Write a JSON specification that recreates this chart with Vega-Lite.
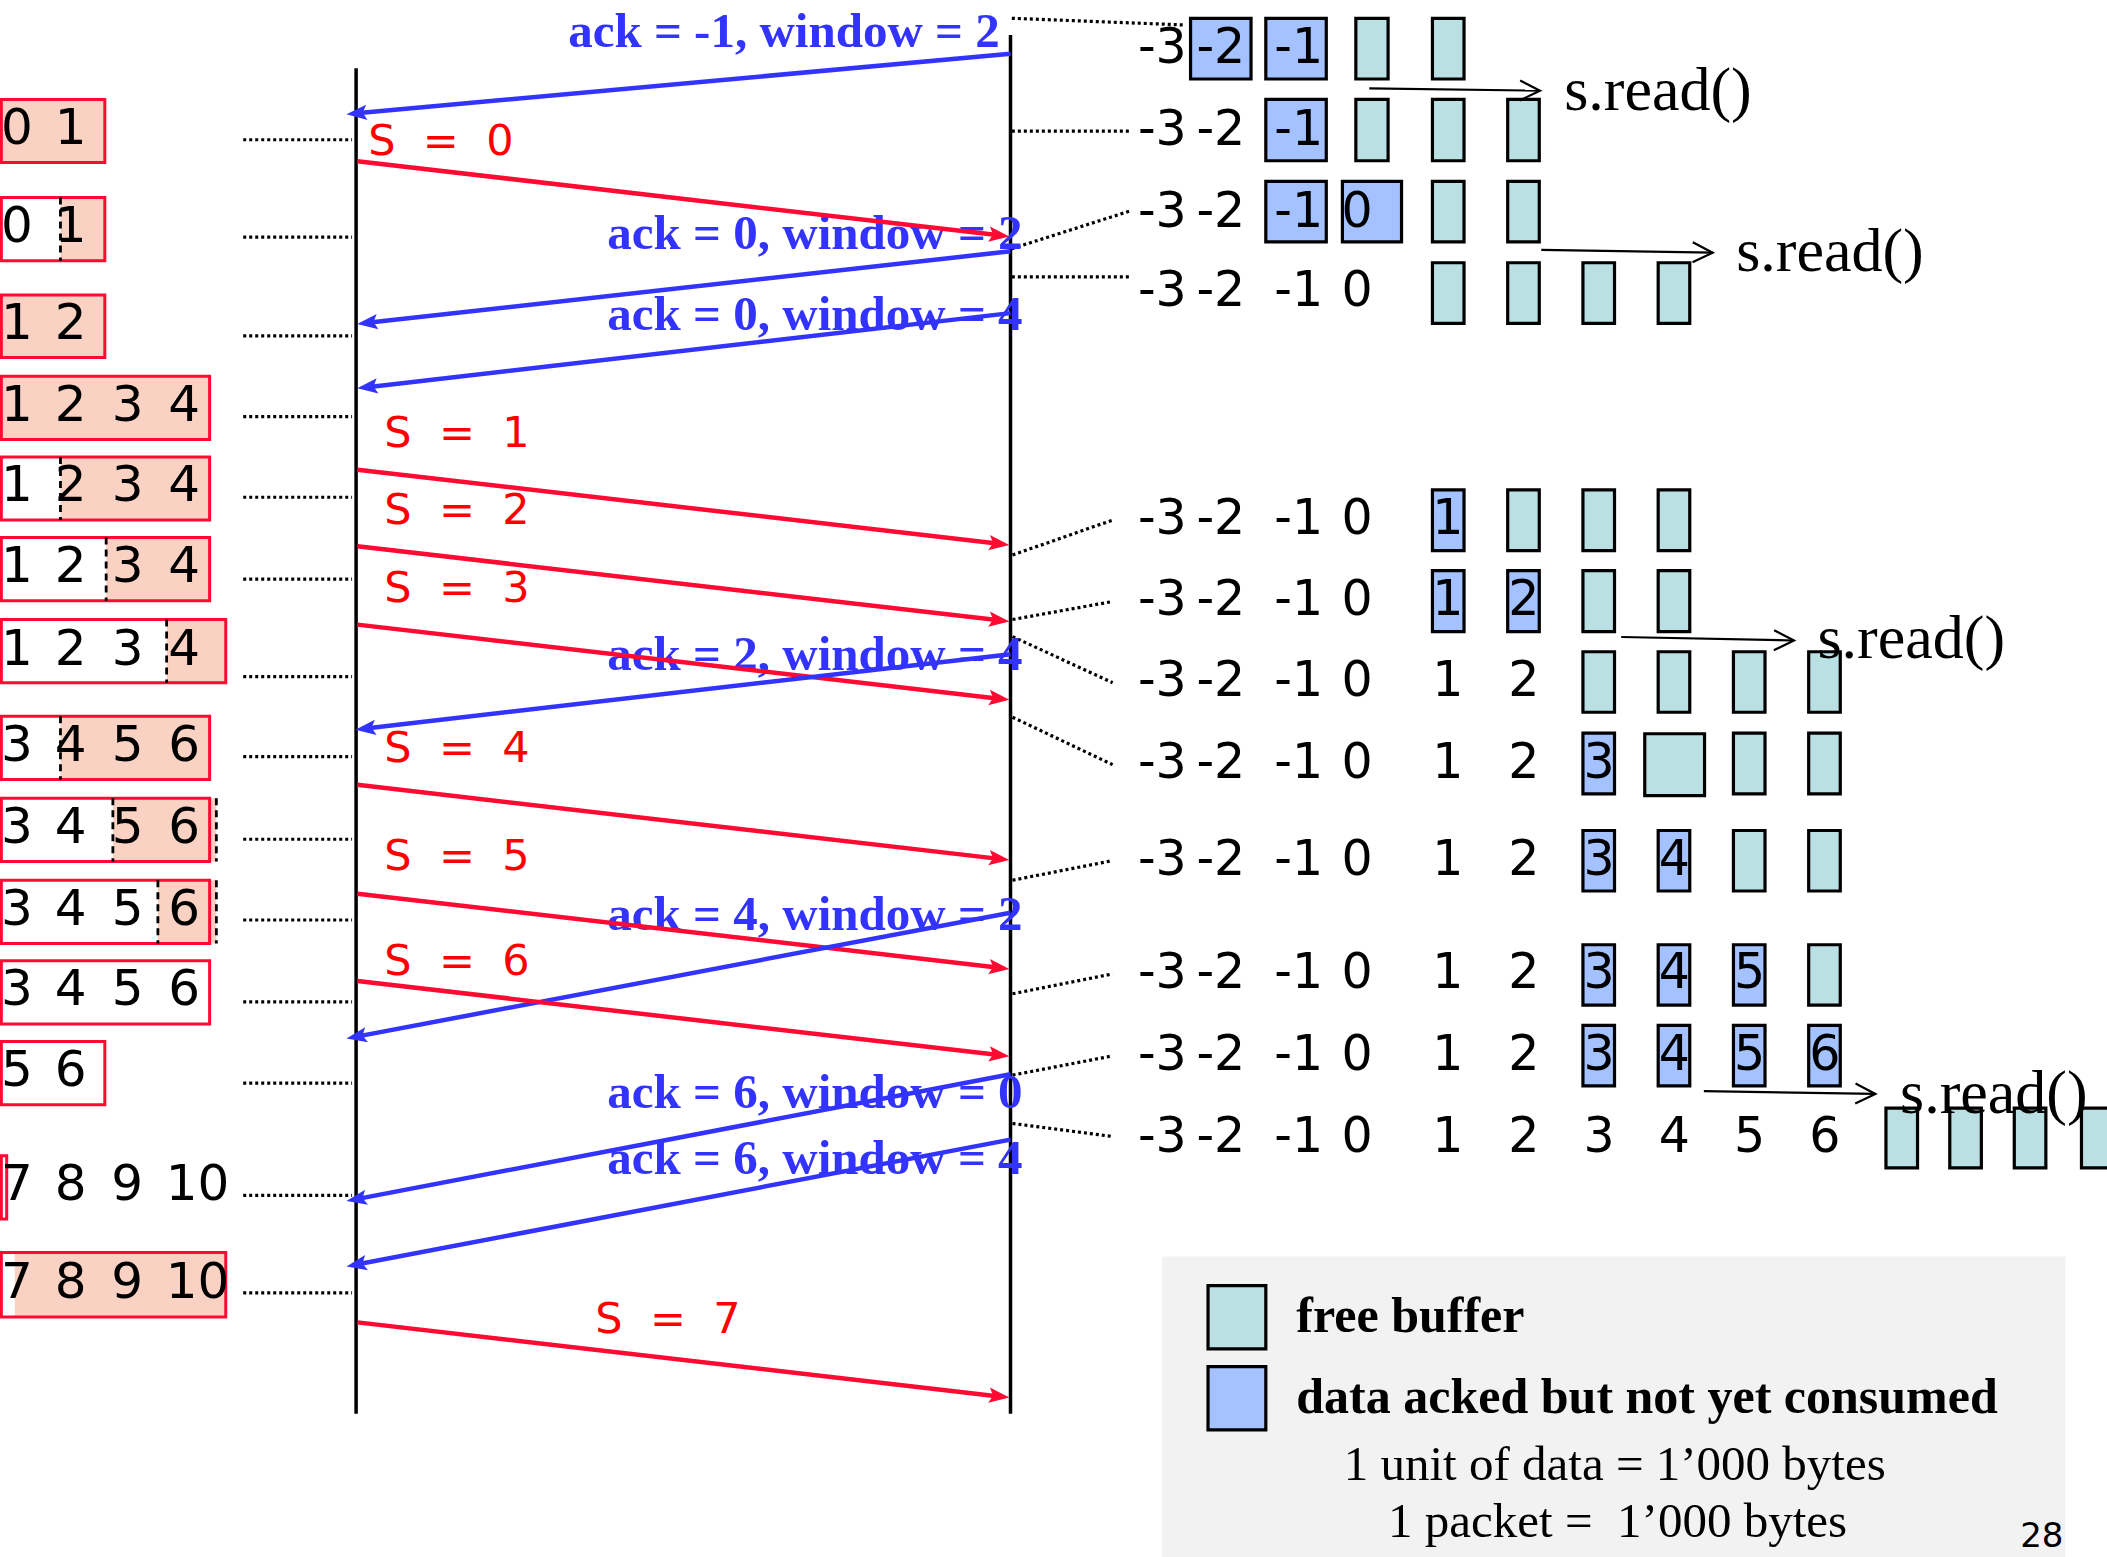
{
"$schema": "https://vega.github.io/schema/vega-lite/v6.json",
"width": 2107, "height": 1557, "padding": 0, "autosize": {"type": "none"},
"background": "white",
"config": {"view": {"stroke": null}},
"datasets": {
"legendBg": [{"x": 864.8, "x2": 1537, "y": 935, "y2": 1160}],
"verticals": [{"x": 265, "y": 50.8, "x2": 265, "y2": 1052}, {"x": 752, "y": 26, "x2": 752, "y2": 1052}],
"leftFills": [
{"x": 1, "x2": 78, "y": 74, "y2": 121},
{"x": 45, "x2": 78, "y": 147, "y2": 194},
{"x": 1, "x2": 78, "y": 219.5, "y2": 266},
{"x": 1, "x2": 156, "y": 280, "y2": 327},
{"x": 45, "x2": 156, "y": 340, "y2": 387},
{"x": 79, "x2": 156, "y": 400, "y2": 447},
{"x": 124, "x2": 168, "y": 461, "y2": 508},
{"x": 45, "x2": 156, "y": 533, "y2": 580},
{"x": 84, "x2": 161, "y": 594, "y2": 641},
{"x": 117.5, "x2": 161, "y": 655, "y2": 702},
{"x": 11, "x2": 168, "y": 932, "y2": 980}
],
"leftBoxes": [
{"x": 1, "x2": 78, "y": 74, "y2": 121},
{"x": 1, "x2": 78, "y": 147, "y2": 194},
{"x": 1, "x2": 78, "y": 219.5, "y2": 266},
{"x": 1, "x2": 156, "y": 280, "y2": 327},
{"x": 1, "x2": 156, "y": 340, "y2": 387},
{"x": 1, "x2": 156, "y": 400, "y2": 447},
{"x": 1, "x2": 168, "y": 461, "y2": 508},
{"x": 1, "x2": 156, "y": 533, "y2": 580},
{"x": 1, "x2": 156, "y": 594, "y2": 641},
{"x": 1, "x2": 156, "y": 655, "y2": 702},
{"x": 1, "x2": 156, "y": 715, "y2": 762},
{"x": 1, "x2": 78, "y": 775, "y2": 822},
{"x": 1, "x2": 5, "y": 860, "y2": 907},
{"x": 1, "x2": 168, "y": 932, "y2": 980}
],
"leftDashes": [
{"x": 45, "y": 147, "y2": 194},
{"x": 45, "y": 340, "y2": 387},
{"x": 79, "y": 400, "y2": 447},
{"x": 124, "y": 461, "y2": 508},
{"x": 45, "y": 533, "y2": 580},
{"x": 84, "y": 594, "y2": 641},
{"x": 161, "y": 594, "y2": 641},
{"x": 117.5, "y": 655, "y2": 702},
{"x": 161, "y": 655, "y2": 702}
],
"dots": [
{"x": 181, "y": 104, "x2": 262, "y2": 104},
{"x": 181, "y": 176.5, "x2": 262, "y2": 176.5},
{"x": 181, "y": 250, "x2": 262, "y2": 250},
{"x": 181, "y": 310, "x2": 262, "y2": 310},
{"x": 181, "y": 370, "x2": 262, "y2": 370},
{"x": 181, "y": 431, "x2": 262, "y2": 431},
{"x": 181, "y": 503.5, "x2": 262, "y2": 503.5},
{"x": 181, "y": 563, "x2": 262, "y2": 563},
{"x": 181, "y": 624.5, "x2": 262, "y2": 624.5},
{"x": 181, "y": 684.6, "x2": 262, "y2": 684.6},
{"x": 181, "y": 745.5, "x2": 262, "y2": 745.5},
{"x": 181, "y": 806, "x2": 262, "y2": 806},
{"x": 181, "y": 889.5, "x2": 262, "y2": 889.5},
{"x": 181, "y": 962, "x2": 262, "y2": 962},
{"x": 753, "y": 13.6, "x2": 882, "y2": 18.6},
{"x": 753, "y": 97.5, "x2": 841, "y2": 97.5},
{"x": 753, "y": 185, "x2": 841, "y2": 157},
{"x": 753, "y": 206, "x2": 841, "y2": 206},
{"x": 753.5, "y": 413, "x2": 828, "y2": 387},
{"x": 753.5, "y": 461, "x2": 828, "y2": 447.6},
{"x": 753.5, "y": 473.7, "x2": 828, "y2": 508},
{"x": 753.5, "y": 533.7, "x2": 828, "y2": 569},
{"x": 753.5, "y": 655, "x2": 828, "y2": 640.4},
{"x": 753.5, "y": 739.5, "x2": 828, "y2": 724.7},
{"x": 753.5, "y": 800, "x2": 828, "y2": 785.7},
{"x": 753.5, "y": 836, "x2": 828, "y2": 845.7}
],
"rightBoxes": [
{"kind": "acked", "x": 886, "x2": 931, "y": 13.6, "y2": 58.8},
{"kind": "acked", "x": 942, "x2": 987, "y": 13.6, "y2": 58.8},
{"kind": "free", "x": 1009, "x2": 1033, "y": 13.6, "y2": 58.8},
{"kind": "free", "x": 1066, "x2": 1089.5, "y": 13.6, "y2": 58.8},
{"kind": "acked", "x": 942, "x2": 987, "y": 74, "y2": 119.6},
{"kind": "free", "x": 1009, "x2": 1033, "y": 74, "y2": 119.6},
{"kind": "free", "x": 1066, "x2": 1089.5, "y": 74, "y2": 119.6},
{"kind": "free", "x": 1122, "x2": 1145.5, "y": 74, "y2": 119.6},
{"kind": "acked", "x": 942, "x2": 987, "y": 135, "y2": 180},
{"kind": "acked", "x": 999, "x2": 1043, "y": 135, "y2": 180},
{"kind": "free", "x": 1066, "x2": 1089.5, "y": 135, "y2": 180},
{"kind": "free", "x": 1122, "x2": 1145.5, "y": 135, "y2": 180},
{"kind": "free", "x": 1066, "x2": 1089.5, "y": 195.5, "y2": 240.6},
{"kind": "free", "x": 1122, "x2": 1145.5, "y": 195.5, "y2": 240.6},
{"kind": "free", "x": 1178, "x2": 1201.5, "y": 195.5, "y2": 240.6},
{"kind": "free", "x": 1234, "x2": 1257.5, "y": 195.5, "y2": 240.6},
{"kind": "acked", "x": 1066, "x2": 1089.5, "y": 364.5, "y2": 409.7},
{"kind": "free", "x": 1122, "x2": 1145.5, "y": 364.5, "y2": 409.7},
{"kind": "free", "x": 1178, "x2": 1201.5, "y": 364.5, "y2": 409.7},
{"kind": "free", "x": 1234, "x2": 1257.5, "y": 364.5, "y2": 409.7},
{"kind": "acked", "x": 1066, "x2": 1089.5, "y": 424.6, "y2": 470},
{"kind": "acked", "x": 1122, "x2": 1145.5, "y": 424.6, "y2": 470},
{"kind": "free", "x": 1178, "x2": 1201.5, "y": 424.6, "y2": 470},
{"kind": "free", "x": 1234, "x2": 1257.5, "y": 424.6, "y2": 470},
{"kind": "free", "x": 1178, "x2": 1201.5, "y": 485, "y2": 530},
{"kind": "free", "x": 1234, "x2": 1257.5, "y": 485, "y2": 530},
{"kind": "free", "x": 1290, "x2": 1313.5, "y": 485, "y2": 530},
{"kind": "free", "x": 1346, "x2": 1369.5, "y": 485, "y2": 530},
{"kind": "acked", "x": 1178, "x2": 1201.5, "y": 545.6, "y2": 590.7},
{"kind": "free", "x": 1224, "x2": 1268.5, "y": 546, "y2": 592},
{"kind": "free", "x": 1290, "x2": 1313.5, "y": 545.6, "y2": 590.7},
{"kind": "free", "x": 1346, "x2": 1369.5, "y": 545.6, "y2": 590.7},
{"kind": "acked", "x": 1178, "x2": 1201.5, "y": 618, "y2": 663},
{"kind": "acked", "x": 1234, "x2": 1257.5, "y": 618, "y2": 663},
{"kind": "free", "x": 1290, "x2": 1313.5, "y": 618, "y2": 663},
{"kind": "free", "x": 1346, "x2": 1369.5, "y": 618, "y2": 663},
{"kind": "acked", "x": 1178, "x2": 1201.5, "y": 703, "y2": 748},
{"kind": "acked", "x": 1234, "x2": 1257.5, "y": 703, "y2": 748},
{"kind": "acked", "x": 1290, "x2": 1313.5, "y": 703, "y2": 748},
{"kind": "free", "x": 1346, "x2": 1369.5, "y": 703, "y2": 748},
{"kind": "acked", "x": 1178, "x2": 1201.5, "y": 763, "y2": 808},
{"kind": "acked", "x": 1234, "x2": 1257.5, "y": 763, "y2": 808},
{"kind": "acked", "x": 1290, "x2": 1313.5, "y": 763, "y2": 808},
{"kind": "acked", "x": 1346, "x2": 1369.5, "y": 763, "y2": 808},
{"kind": "free", "x": 1403.5, "x2": 1427, "y": 824.6, "y2": 869},
{"kind": "free", "x": 1451, "x2": 1474.5, "y": 824.6, "y2": 869},
{"kind": "free", "x": 1499, "x2": 1522.5, "y": 824.6, "y2": 869},
{"kind": "free", "x": 1549, "x2": 1572.5, "y": 824.6, "y2": 869}
],
"swatches": [
{"kind": "free", "x": 899, "x2": 942, "y": 956.6, "y2": 1003.8},
{"kind": "acked", "x": 899, "x2": 942, "y": 1016.9, "y2": 1064}
],
"arrows": [
{"dir": "ack", "x": 752, "y": 40, "hx": 265.4, "hy": 84.3, "angle": 174.8},
{"dir": "data", "x": 266, "y": 120, "hx": 743.6, "hy": 175.1, "angle": 6.6},
{"dir": "ack", "x": 752, "y": 187, "hx": 273.4, "hy": 240.2, "angle": 173.66},
{"dir": "ack", "x": 752, "y": 233, "hx": 273.4, "hy": 288.1, "angle": 173.4},
{"dir": "data", "x": 266, "y": 349.5, "hx": 743.6, "hy": 404.6, "angle": 6.6},
{"dir": "data", "x": 266, "y": 406.5, "hx": 743.6, "hy": 461.6, "angle": 6.6},
{"dir": "data", "x": 266, "y": 464.8, "hx": 743.6, "hy": 519.9, "angle": 6.6},
{"dir": "ack", "x": 752, "y": 486.8, "hx": 272, "hy": 542.1, "angle": 173.4},
{"dir": "data", "x": 266, "y": 584, "hx": 743.6, "hy": 639.1, "angle": 6.6},
{"dir": "data", "x": 266, "y": 665, "hx": 743.6, "hy": 720.1, "angle": 6.6},
{"dir": "ack", "x": 752, "y": 679.2, "hx": 265.3, "hy": 771.4, "angle": 169.3},
{"dir": "data", "x": 266, "y": 730, "hx": 743.6, "hy": 785.1, "angle": 6.6},
{"dir": "ack", "x": 752, "y": 799.4, "hx": 265.3, "hy": 892.3, "angle": 169.2},
{"dir": "ack", "x": 752, "y": 848, "hx": 265.3, "hy": 941, "angle": 169.2},
{"dir": "data", "x": 266, "y": 984, "hx": 743.6, "hy": 1039.1, "angle": 6.6}
],
"reads": [
{"x": 1019, "y": 65.7, "x2": 1146, "y2": 67.5, "hx": 1138.6, "hy": 67.4, "lx": 1164, "ly": 82},
{"x": 1147, "y": 186, "x2": 1274.5, "y2": 188, "hx": 1267.1, "hy": 187.9, "lx": 1292, "ly": 202},
{"x": 1206.5, "y": 474, "x2": 1335, "y2": 476.6, "hx": 1327.6, "hy": 476.5, "lx": 1352.5, "ly": 490},
{"x": 1268, "y": 812, "x2": 1395.6, "y2": 814, "hx": 1388.2, "hy": 813.9, "lx": 1414, "ly": 828}
],
"leftDigits": [
{"t": "0", "x": 12.5, "y": 107}, {"t": "1", "x": 52.5, "y": 107},
{"t": "0", "x": 12.5, "y": 180}, {"t": "1", "x": 52.5, "y": 180},
{"t": "1", "x": 12.5, "y": 252.5}, {"t": "2", "x": 52.5, "y": 252.5},
{"t": "1", "x": 12.5, "y": 313}, {"t": "2", "x": 52.5, "y": 313}, {"t": "3", "x": 95, "y": 313}, {"t": "4", "x": 137, "y": 313},
{"t": "1", "x": 12.5, "y": 373}, {"t": "2", "x": 52.5, "y": 373}, {"t": "3", "x": 95, "y": 373}, {"t": "4", "x": 137, "y": 373},
{"t": "1", "x": 12.5, "y": 433}, {"t": "2", "x": 52.5, "y": 433}, {"t": "3", "x": 95, "y": 433}, {"t": "4", "x": 137, "y": 433},
{"t": "1", "x": 12.5, "y": 494.5}, {"t": "2", "x": 52.5, "y": 494.5}, {"t": "3", "x": 95, "y": 494.5}, {"t": "4", "x": 137, "y": 494.5},
{"t": "3", "x": 12.5, "y": 566.5}, {"t": "4", "x": 52.5, "y": 566.5}, {"t": "5", "x": 95, "y": 566.5}, {"t": "6", "x": 137, "y": 566.5},
{"t": "3", "x": 12.5, "y": 627}, {"t": "4", "x": 52.5, "y": 627}, {"t": "5", "x": 95, "y": 627}, {"t": "6", "x": 137, "y": 627},
{"t": "3", "x": 12.5, "y": 688}, {"t": "4", "x": 52.5, "y": 688}, {"t": "5", "x": 95, "y": 688}, {"t": "6", "x": 137, "y": 688},
{"t": "3", "x": 12.5, "y": 748}, {"t": "4", "x": 52.5, "y": 748}, {"t": "5", "x": 95, "y": 748}, {"t": "6", "x": 137, "y": 748},
{"t": "5", "x": 12.5, "y": 808}, {"t": "6", "x": 52.5, "y": 808},
{"t": "7", "x": 12.5, "y": 893}, {"t": "8", "x": 52.5, "y": 893}, {"t": "9", "x": 94.6, "y": 893}, {"t": "10", "x": 147, "y": 893},
{"t": "7", "x": 12.5, "y": 966}, {"t": "8", "x": 52.5, "y": 966}, {"t": "9", "x": 94.6, "y": 966}, {"t": "10", "x": 147, "y": 966}
],
"rightDigits": [
{"t": "-3", "x": 865, "y": 47}, {"t": "-2", "x": 908.5, "y": 47}, {"t": "-1", "x": 966.5, "y": 47},
{"t": "-3", "x": 865, "y": 108}, {"t": "-2", "x": 908.5, "y": 108}, {"t": "-1", "x": 966.5, "y": 108},
{"t": "-3", "x": 865, "y": 169}, {"t": "-2", "x": 908.5, "y": 169}, {"t": "-1", "x": 966.5, "y": 169}, {"t": "0", "x": 1010, "y": 169},
{"t": "-3", "x": 865, "y": 228}, {"t": "-2", "x": 908.5, "y": 228}, {"t": "-1", "x": 966.5, "y": 228}, {"t": "0", "x": 1010, "y": 228},
{"t": "-3", "x": 865, "y": 397}, {"t": "-2", "x": 908.5, "y": 397}, {"t": "-1", "x": 966.5, "y": 397}, {"t": "0", "x": 1010, "y": 397}, {"t": "1", "x": 1077.5, "y": 397},
{"t": "-3", "x": 865, "y": 457.6}, {"t": "-2", "x": 908.5, "y": 457.6}, {"t": "-1", "x": 966.5, "y": 457.6}, {"t": "0", "x": 1010, "y": 457.6}, {"t": "1", "x": 1077.5, "y": 457.6}, {"t": "2", "x": 1134, "y": 457.6},
{"t": "-3", "x": 865, "y": 518}, {"t": "-2", "x": 908.5, "y": 518}, {"t": "-1", "x": 966.5, "y": 518}, {"t": "0", "x": 1010, "y": 518}, {"t": "1", "x": 1077.5, "y": 518}, {"t": "2", "x": 1134, "y": 518},
{"t": "-3", "x": 865, "y": 579}, {"t": "-2", "x": 908.5, "y": 579}, {"t": "-1", "x": 966.5, "y": 579}, {"t": "0", "x": 1010, "y": 579}, {"t": "1", "x": 1077.5, "y": 579}, {"t": "2", "x": 1134, "y": 579}, {"t": "3", "x": 1190, "y": 579},
{"t": "-3", "x": 865, "y": 651}, {"t": "-2", "x": 908.5, "y": 651}, {"t": "-1", "x": 966.5, "y": 651}, {"t": "0", "x": 1010, "y": 651}, {"t": "1", "x": 1077.5, "y": 651}, {"t": "2", "x": 1134, "y": 651}, {"t": "3", "x": 1190, "y": 651}, {"t": "4", "x": 1246, "y": 651},
{"t": "-3", "x": 865, "y": 735}, {"t": "-2", "x": 908.5, "y": 735}, {"t": "-1", "x": 966.5, "y": 735}, {"t": "0", "x": 1010, "y": 735}, {"t": "1", "x": 1077.5, "y": 735}, {"t": "2", "x": 1134, "y": 735}, {"t": "3", "x": 1190, "y": 735}, {"t": "4", "x": 1246, "y": 735}, {"t": "5", "x": 1302, "y": 735},
{"t": "-3", "x": 865, "y": 796}, {"t": "-2", "x": 908.5, "y": 796}, {"t": "-1", "x": 966.5, "y": 796}, {"t": "0", "x": 1010, "y": 796}, {"t": "1", "x": 1077.5, "y": 796}, {"t": "2", "x": 1134, "y": 796}, {"t": "3", "x": 1190, "y": 796}, {"t": "4", "x": 1246, "y": 796}, {"t": "5", "x": 1302, "y": 796}, {"t": "6", "x": 1358, "y": 796},
{"t": "-3", "x": 865, "y": 857}, {"t": "-2", "x": 908.5, "y": 857}, {"t": "-1", "x": 966.5, "y": 857}, {"t": "0", "x": 1010, "y": 857}, {"t": "1", "x": 1077.5, "y": 857}, {"t": "2", "x": 1134, "y": 857}, {"t": "3", "x": 1190, "y": 857}, {"t": "4", "x": 1246, "y": 857}, {"t": "5", "x": 1302, "y": 857}, {"t": "6", "x": 1358, "y": 857}
],
"sLabels": [
{"t": "S\u00a0\u00a0=\u00a0\u00a00", "x": 274, "y": 115.3},
{"t": "S\u00a0\u00a0=\u00a0\u00a01", "x": 286, "y": 332.3},
{"t": "S\u00a0\u00a0=\u00a0\u00a02", "x": 286, "y": 390},
{"t": "S\u00a0\u00a0=\u00a0\u00a03", "x": 286, "y": 447.7},
{"t": "S\u00a0\u00a0=\u00a0\u00a04", "x": 286, "y": 566.7},
{"t": "S\u00a0\u00a0=\u00a0\u00a05", "x": 286, "y": 647.5},
{"t": "S\u00a0\u00a0=\u00a0\u00a06", "x": 286, "y": 725.5},
{"t": "S\u00a0\u00a0=\u00a0\u00a07", "x": 443, "y": 992}
],
"ackLabels": [
{"t": "ack = -1, window = 2", "x": 744, "y": 35},
{"t": "ack = 0, window = 2", "x": 761, "y": 185},
{"t": "ack = 0, window = 4", "x": 761, "y": 245.5},
{"t": "ack = 2, window = 4", "x": 761, "y": 498.5},
{"t": "ack = 4, window = 2", "x": 761, "y": 691.7},
{"t": "ack = 6, window = 0", "x": 761, "y": 824.6},
{"t": "ack = 6, window = 4", "x": 761, "y": 873.3}
],
"legendBold": [
{"t": "free buffer", "x": 964.7, "y": 990.9},
{"t": "data acked but not yet consumed", "x": 964.7, "y": 1051.6}
],
"legendPlain": [
{"t": "1 unit of data = 1’000 bytes", "x": 1000, "y": 1101.2},
{"t": "1 packet =\u00a0 1’000 bytes", "x": 1033, "y": 1143.4}
],
"pageNo": [{"t": "28", "x": 1519.5, "y": 1151}]
},
"layer": [
{"data": {"name": "legendBg"}, "mark": {"type": "rect", "fill": "#F2F2F2"},
 "encoding": {"x": {"field": "x", "type": "quantitative", "scale": {"domain": [0, 1568], "nice": false, "zero": false}, "axis": null}, "x2": {"field": "x2"},
  "y": {"field": "y", "type": "quantitative", "scale": {"domain": [0, 1158.6], "nice": false, "zero": false, "reverse": true}, "axis": null}, "y2": {"field": "y2"}}},
{"data": {"name": "leftFills"}, "mark": {"type": "rect", "fill": "#FAD2C3"},
 "encoding": {"x": {"field": "x", "type": "quantitative", "scale": {"domain": [0, 1568], "nice": false, "zero": false}, "axis": null}, "x2": {"field": "x2"},
  "y": {"field": "y", "type": "quantitative", "scale": {"domain": [0, 1158.6], "nice": false, "zero": false, "reverse": true}, "axis": null}, "y2": {"field": "y2"}}},
{"data": {"name": "leftBoxes"}, "mark": {"type": "rect", "fill": null, "stroke": "#FF0A32", "strokeWidth": 3},
 "encoding": {"x": {"field": "x", "type": "quantitative", "scale": {"domain": [0, 1568], "nice": false, "zero": false}, "axis": null}, "x2": {"field": "x2"},
  "y": {"field": "y", "type": "quantitative", "scale": {"domain": [0, 1158.6], "nice": false, "zero": false, "reverse": true}, "axis": null}, "y2": {"field": "y2"}}},
{"data": {"name": "leftDashes"}, "mark": {"type": "rule", "color": "black", "strokeWidth": 2.8, "strokeDash": [7, 5]},
 "encoding": {"x": {"field": "x", "type": "quantitative", "scale": {"domain": [0, 1568], "nice": false, "zero": false}, "axis": null},
  "y": {"field": "y", "type": "quantitative", "scale": {"domain": [0, 1158.6], "nice": false, "zero": false, "reverse": true}, "axis": null}, "y2": {"field": "y2"}}},
{"data": {"name": "dots"}, "mark": {"type": "rule", "color": "black", "strokeWidth": 3.2, "strokeDash": [3, 3]},
 "encoding": {"x": {"field": "x", "type": "quantitative", "scale": {"domain": [0, 1568], "nice": false, "zero": false}, "axis": null}, "x2": {"field": "x2"},
  "y": {"field": "y", "type": "quantitative", "scale": {"domain": [0, 1158.6], "nice": false, "zero": false, "reverse": true}, "axis": null}, "y2": {"field": "y2"}}},
{"data": {"name": "verticals"}, "mark": {"type": "rule", "color": "black", "strokeWidth": 3.5},
 "encoding": {"x": {"field": "x", "type": "quantitative", "scale": {"domain": [0, 1568], "nice": false, "zero": false}, "axis": null}, "x2": {"field": "x2"},
  "y": {"field": "y", "type": "quantitative", "scale": {"domain": [0, 1158.6], "nice": false, "zero": false, "reverse": true}, "axis": null}, "y2": {"field": "y2"}}},
{"data": {"name": "rightBoxes"}, "mark": {"type": "rect", "stroke": "black", "strokeWidth": 3.2, "opacity": 1},
 "encoding": {"x": {"field": "x", "type": "quantitative", "scale": {"domain": [0, 1568], "nice": false, "zero": false}, "axis": null}, "x2": {"field": "x2"},
  "y": {"field": "y", "type": "quantitative", "scale": {"domain": [0, 1158.6], "nice": false, "zero": false, "reverse": true}, "axis": null}, "y2": {"field": "y2"},
  "color": {"field": "kind", "type": "nominal", "scale": {"domain": ["acked", "free", "data", "ack"], "range": ["#A4C2FF", "#BBE0E3", "#FF0A32", "#3333FF"]}, "legend": null}}},
{"data": {"name": "swatches"}, "mark": {"type": "rect", "stroke": "black", "strokeWidth": 3.2, "opacity": 1},
 "encoding": {"x": {"field": "x", "type": "quantitative", "scale": {"domain": [0, 1568], "nice": false, "zero": false}, "axis": null}, "x2": {"field": "x2"},
  "y": {"field": "y", "type": "quantitative", "scale": {"domain": [0, 1158.6], "nice": false, "zero": false, "reverse": true}, "axis": null}, "y2": {"field": "y2"},
  "color": {"field": "kind", "type": "nominal", "scale": {"domain": ["acked", "free", "data", "ack"], "range": ["#A4C2FF", "#BBE0E3", "#FF0A32", "#3333FF"]}, "legend": null}}},
{"data": {"name": "ackLabels"}, "mark": {"type": "text", "font": "Liberation Serif", "fontWeight": "bold", "fontSize": 49, "color": "#3333FF", "align": "right", "baseline": "alphabetic"},
 "encoding": {"x": {"field": "x", "type": "quantitative", "scale": {"domain": [0, 1568], "nice": false, "zero": false}, "axis": null},
  "y": {"field": "y", "type": "quantitative", "scale": {"domain": [0, 1158.6], "nice": false, "zero": false, "reverse": true}, "axis": null}, "text": {"field": "t"}}},
{"data": {"name": "arrows"}, "mark": {"type": "rule", "strokeWidth": 4.5},
 "encoding": {"x": {"field": "x", "type": "quantitative", "scale": {"domain": [0, 1568], "nice": false, "zero": false}, "axis": null}, "x2": {"field": "hx"},
  "y": {"field": "y", "type": "quantitative", "scale": {"domain": [0, 1158.6], "nice": false, "zero": false, "reverse": true}, "axis": null}, "y2": {"field": "hy"},
  "color": {"field": "dir", "type": "nominal", "scale": {"domain": ["acked", "free", "data", "ack"], "range": ["#A4C2FF", "#BBE0E3", "#FF0A32", "#3333FF"]}, "legend": null}}},
{"data": {"name": "arrows"}, "mark": {"type": "point", "filled": true, "opacity": 1, "strokeWidth": 0, "size": 420, "shape": "M1,0L-1,-0.75L-0.6,0L-1,0.75Z"},
 "encoding": {"x": {"field": "hx", "type": "quantitative", "scale": {"domain": [0, 1568], "nice": false, "zero": false}, "axis": null},
  "y": {"field": "hy", "type": "quantitative", "scale": {"domain": [0, 1158.6], "nice": false, "zero": false, "reverse": true}, "axis": null},
  "angle": {"field": "angle", "type": "quantitative", "scale": null},
  "color": {"field": "dir", "type": "nominal", "scale": {"domain": ["acked", "free", "data", "ack"], "range": ["#A4C2FF", "#BBE0E3", "#FF0A32", "#3333FF"]}, "legend": null}}},
{"data": {"name": "reads"}, "mark": {"type": "rule", "color": "black", "strokeWidth": 2.2},
 "encoding": {"x": {"field": "x", "type": "quantitative", "scale": {"domain": [0, 1568], "nice": false, "zero": false}, "axis": null}, "x2": {"field": "x2"},
  "y": {"field": "y", "type": "quantitative", "scale": {"domain": [0, 1158.6], "nice": false, "zero": false, "reverse": true}, "axis": null}, "y2": {"field": "y2"}}},
{"data": {"name": "reads"}, "mark": {"type": "point", "filled": false, "opacity": 1, "color": "black", "strokeWidth": 2.2, "size": 400, "shape": "M-1,-1L1,0L-1,1", "angle": 1},
 "encoding": {"x": {"field": "hx", "type": "quantitative", "scale": {"domain": [0, 1568], "nice": false, "zero": false}, "axis": null},
  "y": {"field": "hy", "type": "quantitative", "scale": {"domain": [0, 1158.6], "nice": false, "zero": false, "reverse": true}, "axis": null}}},
{"data": {"name": "leftDigits"}, "mark": {"type": "text", "font": "DejaVu Sans", "fontSize": 50, "color": "black", "align": "center", "baseline": "alphabetic"},
 "encoding": {"x": {"field": "x", "type": "quantitative", "scale": {"domain": [0, 1568], "nice": false, "zero": false}, "axis": null},
  "y": {"field": "y", "type": "quantitative", "scale": {"domain": [0, 1158.6], "nice": false, "zero": false, "reverse": true}, "axis": null}, "text": {"field": "t"}}},
{"data": {"name": "rightDigits"}, "mark": {"type": "text", "font": "DejaVu Sans", "fontSize": 49, "color": "black", "align": "center", "baseline": "alphabetic"},
 "encoding": {"x": {"field": "x", "type": "quantitative", "scale": {"domain": [0, 1568], "nice": false, "zero": false}, "axis": null},
  "y": {"field": "y", "type": "quantitative", "scale": {"domain": [0, 1158.6], "nice": false, "zero": false, "reverse": true}, "axis": null}, "text": {"field": "t"}}},
{"data": {"name": "sLabels"}, "mark": {"type": "text", "font": "DejaVu Sans", "fontSize": 43, "color": "#FF0000", "align": "left", "baseline": "alphabetic"},
 "encoding": {"x": {"field": "x", "type": "quantitative", "scale": {"domain": [0, 1568], "nice": false, "zero": false}, "axis": null},
  "y": {"field": "y", "type": "quantitative", "scale": {"domain": [0, 1158.6], "nice": false, "zero": false, "reverse": true}, "axis": null}, "text": {"field": "t"}}},
{"data": {"name": "reads"}, "mark": {"type": "text", "font": "Liberation Serif", "fontSize": 62, "color": "black", "align": "left", "baseline": "alphabetic"},
 "encoding": {"x": {"field": "lx", "type": "quantitative", "scale": {"domain": [0, 1568], "nice": false, "zero": false}, "axis": null},
  "y": {"field": "ly", "type": "quantitative", "scale": {"domain": [0, 1158.6], "nice": false, "zero": false, "reverse": true}, "axis": null}, "text": {"value": "s.read()"}}},
{"data": {"name": "legendBold"}, "mark": {"type": "text", "font": "Liberation Serif", "fontWeight": "bold", "fontSize": 50, "color": "black", "align": "left", "baseline": "alphabetic"},
 "encoding": {"x": {"field": "x", "type": "quantitative", "scale": {"domain": [0, 1568], "nice": false, "zero": false}, "axis": null},
  "y": {"field": "y", "type": "quantitative", "scale": {"domain": [0, 1158.6], "nice": false, "zero": false, "reverse": true}, "axis": null}, "text": {"field": "t"}}},
{"data": {"name": "legendPlain"}, "mark": {"type": "text", "font": "Liberation Serif", "fontSize": 49, "color": "black", "align": "left", "baseline": "alphabetic"},
 "encoding": {"x": {"field": "x", "type": "quantitative", "scale": {"domain": [0, 1568], "nice": false, "zero": false}, "axis": null},
  "y": {"field": "y", "type": "quantitative", "scale": {"domain": [0, 1158.6], "nice": false, "zero": false, "reverse": true}, "axis": null}, "text": {"field": "t"}}},
{"data": {"name": "pageNo"}, "mark": {"type": "text", "font": "DejaVu Sans", "fontSize": 34, "color": "black", "align": "center", "baseline": "alphabetic"},
 "encoding": {"x": {"field": "x", "type": "quantitative", "scale": {"domain": [0, 1568], "nice": false, "zero": false}, "axis": null},
  "y": {"field": "y", "type": "quantitative", "scale": {"domain": [0, 1158.6], "nice": false, "zero": false, "reverse": true}, "axis": null}, "text": {"field": "t"}}}
]
}
